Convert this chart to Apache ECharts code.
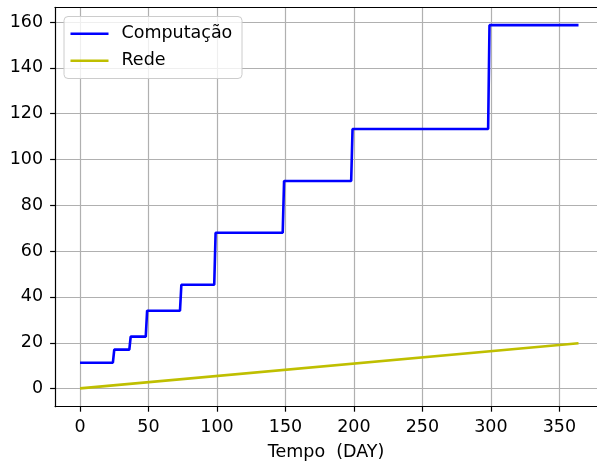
<!DOCTYPE html>
<html>
<head>
<meta charset="utf-8">
<script src="https://cdn.jsdelivr.net/npm/echarts@6/dist/echarts.min.js"></script>
<style>html,body{margin:0;padding:0;background:#fff;}#c{width:597px;height:464px;}</style>
</head>
<body>
<div id="c"></div>
<script>
const compDays   = [0, 24, 25, 36, 37, 48, 49, 73, 74, 98, 99, 148, 149, 198, 199, 298, 299, 364];
const compValues = [11.3, 11.3, 17.0, 17.0, 22.7, 22.7, 34.0, 34.0, 45.3, 45.3, 68.0, 68.0, 90.6, 90.6, 113.3, 113.3, 158.6, 158.6];
const redeDays   = [0, 364];
const redeValues = [0.1, 19.8];
const xTicks = [0, 50, 100, 150, 200, 250, 300, 350];
const yTicks = [0, 20, 40, 60, 80, 100, 120, 140, 160];
const seriesNames = ['Computação', 'Rede'];
const xAxisName = 'Tempo  (DAY)';

const font = 'DejaVu Sans';
const fs = 17.5;
const chart = echarts.init(document.getElementById('c'), null, {renderer: 'canvas'});
const zip = (a, b) => a.map((v, i) => [v, b[i]]);
chart.setOption({
  animation: false,
  backgroundColor: '#fff',
  textStyle: {fontFamily: font},
  grid: {left: 55.1, right: 0, top: 7.3, bottom: 57.3, show: false, containLabel: false, outerBoundsMode: 'none'},
  legend: {
    left: 64, top: 16.5, orient: 'vertical',
    backgroundColor: 'rgba(255,255,255,0.8)', borderColor: '#cccccc', borderWidth: 1, borderRadius: 4,
    padding: [8.3, 9.7, 8.7, 6.5], itemGap: 9, itemWidth: 38, itemHeight: 2.6, icon: 'rect',
    textStyle: {fontFamily: font, fontSize: fs, color: '#000', padding: [0, 0, 0, 8]},
    data: seriesNames
  },
  xAxis: [{
    type: 'value', min: -18.2, max: 377.5,
    name: xAxisName, nameLocation: 'middle', nameGap: 37,
    nameTextStyle: {fontFamily: font, fontSize: fs, color: '#000'},
    axisLine: {show: true, onZero: false, lineStyle: {color: '#000', width: 1.2}},
    axisTick: {show: true, length: 5, inside: false, customValues: xTicks, lineStyle: {color: '#000', width: 1.2}},
    axisLabel: {customValues: xTicks, margin: 12, fontFamily: font, fontSize: fs, color: '#000'},
    splitLine: {show: true, lineStyle: {color: '#b0b0b0', width: 1.2}}
  }, {
    type: 'value', position: 'top', min: -18.2, max: 377.5,
    axisLine: {show: true, onZero: false, lineStyle: {color: '#000', width: 1.2}},
    axisTick: {show: false}, axisLabel: {show: false}, splitLine: {show: false}
  }],
  yAxis: {
    type: 'value', min: -7.9, max: 166.4,
    axisLine: {show: true, onZero: false, lineStyle: {color: '#000', width: 1.2}},
    axisTick: {show: true, length: 5, inside: false, customValues: yTicks, lineStyle: {color: '#000', width: 1.2}},
    axisLabel: {customValues: yTicks, margin: 12, fontFamily: font, fontSize: fs, color: '#000'},
    splitLine: {show: true, lineStyle: {color: '#b0b0b0', width: 1.2}}
  },
  series: [
    {name: seriesNames[0], type: 'line', data: zip(compDays, compValues), showSymbol: false, symbol: 'none',
     lineStyle: {color: '#0000ff', width: 2.6}, itemStyle: {color: '#0000ff'}},
    {name: seriesNames[1], type: 'line', data: zip(redeDays, redeValues), showSymbol: false, symbol: 'none',
     lineStyle: {color: '#bfbf00', width: 2.6}, itemStyle: {color: '#bfbf00'}}
  ]
});
</script>
</body>
</html>
